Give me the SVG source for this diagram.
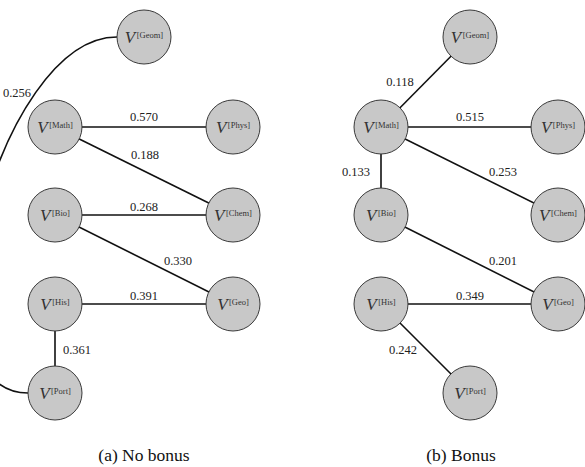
<svg xmlns="http://www.w3.org/2000/svg" width="585" height="467" viewBox="0 0 585 467">
<style>
.edge{stroke:#111;stroke-width:1.6;fill:none}
.node circle{fill:#c8c8c8;stroke:#3a3a3a;stroke-width:1}
.lbl{font-family:"Liberation Serif","Times New Roman","DejaVu Serif",serif;font-size:12.5px;fill:#222;text-anchor:middle}
.nt{font-family:"Liberation Serif","Times New Roman","DejaVu Serif",serif;fill:#333;text-anchor:middle}
.v{font-style:italic;font-size:17px}
.s{font-size:8.5px}
.cap{font-family:"Liberation Serif","Times New Roman","DejaVu Serif",serif;font-size:17.5px;fill:#111;text-anchor:middle}
</style>
<rect width="585" height="467" fill="#fff"/>
<g id="connectors">
<path class="edge" d="M117,37 C-3,37 -92,393 28,393"/>
<line class="edge" x1="55" y1="127" x2="233" y2="127"/>
<line class="edge" x1="55" y1="127" x2="233" y2="215"/>
<line class="edge" x1="55" y1="215" x2="233" y2="215"/>
<line class="edge" x1="55" y1="215" x2="233" y2="304"/>
<line class="edge" x1="55" y1="304" x2="233" y2="304"/>
<line class="edge" x1="55" y1="304" x2="55" y2="393"/>
<line class="edge" x1="470" y1="37" x2="381" y2="127"/>
<line class="edge" x1="381" y1="127" x2="558" y2="127"/>
<line class="edge" x1="381" y1="127" x2="558" y2="215"/>
<line class="edge" x1="381" y1="127" x2="381" y2="215"/>
<line class="edge" x1="381" y1="215" x2="558" y2="304"/>
<line class="edge" x1="381" y1="304" x2="558" y2="304"/>
<line class="edge" x1="381" y1="304" x2="470" y2="393"/>
</g>
<g id="edge-labels">
<text class="lbl" x="17" y="97">0.256</text>
<text class="lbl" x="144" y="121">0.570</text>
<text class="lbl" x="145" y="159">0.188</text>
<text class="lbl" x="144" y="211">0.268</text>
<text class="lbl" x="178" y="265">0.330</text>
<text class="lbl" x="144" y="300">0.391</text>
<text class="lbl" x="77" y="354">0.361</text>
<text class="lbl" x="400" y="86">0.118</text>
<text class="lbl" x="470" y="121">0.515</text>
<text class="lbl" x="356" y="176">0.133</text>
<text class="lbl" x="503" y="176">0.253</text>
<text class="lbl" x="503" y="265">0.201</text>
<text class="lbl" x="470" y="300">0.349</text>
<text class="lbl" x="403" y="354">0.242</text>
</g>
<g id="a-geom" class="node"><circle cx="144" cy="37" r="27"/><text class="nt" x="144" y="43"><tspan class="v">V</tspan><tspan class="s" dx="1.5" dy="-5">[Geom]</tspan></text></g>
<g id="a-math" class="node"><circle cx="55" cy="127" r="27"/><text class="nt" x="55" y="133"><tspan class="v">V</tspan><tspan class="s" dx="1.5" dy="-5">[Math]</tspan></text></g>
<g id="a-phys" class="node"><circle cx="233" cy="127" r="27"/><text class="nt" x="233" y="133"><tspan class="v">V</tspan><tspan class="s" dx="1.5" dy="-5">[Phys]</tspan></text></g>
<g id="a-bio" class="node"><circle cx="55" cy="215" r="27"/><text class="nt" x="55" y="221"><tspan class="v">V</tspan><tspan class="s" dx="1.5" dy="-5">[Bio]</tspan></text></g>
<g id="a-chem" class="node"><circle cx="233" cy="215" r="27"/><text class="nt" x="233" y="221"><tspan class="v">V</tspan><tspan class="s" dx="1.5" dy="-5">[Chem]</tspan></text></g>
<g id="a-his" class="node"><circle cx="55" cy="304" r="27"/><text class="nt" x="55" y="310"><tspan class="v">V</tspan><tspan class="s" dx="1.5" dy="-5">[His]</tspan></text></g>
<g id="a-geo" class="node"><circle cx="233" cy="304" r="27"/><text class="nt" x="233" y="310"><tspan class="v">V</tspan><tspan class="s" dx="1.5" dy="-5">[Geo]</tspan></text></g>
<g id="a-port" class="node"><circle cx="55" cy="393" r="27"/><text class="nt" x="55" y="399"><tspan class="v">V</tspan><tspan class="s" dx="1.5" dy="-5">[Port]</tspan></text></g>
<g id="b-geom" class="node"><circle cx="470" cy="37" r="27"/><text class="nt" x="470" y="43"><tspan class="v">V</tspan><tspan class="s" dx="1.5" dy="-5">[Geom]</tspan></text></g>
<g id="b-math" class="node"><circle cx="381" cy="127" r="27"/><text class="nt" x="381" y="133"><tspan class="v">V</tspan><tspan class="s" dx="1.5" dy="-5">[Math]</tspan></text></g>
<g id="b-phys" class="node"><circle cx="558" cy="127" r="27"/><text class="nt" x="558" y="133"><tspan class="v">V</tspan><tspan class="s" dx="1.5" dy="-5">[Phys]</tspan></text></g>
<g id="b-bio" class="node"><circle cx="381" cy="215" r="27"/><text class="nt" x="381" y="221"><tspan class="v">V</tspan><tspan class="s" dx="1.5" dy="-5">[Bio]</tspan></text></g>
<g id="b-chem" class="node"><circle cx="558" cy="215" r="27"/><text class="nt" x="558" y="221"><tspan class="v">V</tspan><tspan class="s" dx="1.5" dy="-5">[Chem]</tspan></text></g>
<g id="b-his" class="node"><circle cx="381" cy="304" r="27"/><text class="nt" x="381" y="310"><tspan class="v">V</tspan><tspan class="s" dx="1.5" dy="-5">[His]</tspan></text></g>
<g id="b-geo" class="node"><circle cx="558" cy="304" r="27"/><text class="nt" x="558" y="310"><tspan class="v">V</tspan><tspan class="s" dx="1.5" dy="-5">[Geo]</tspan></text></g>
<g id="b-port" class="node"><circle cx="470" cy="393" r="27"/><text class="nt" x="470" y="399"><tspan class="v">V</tspan><tspan class="s" dx="1.5" dy="-5">[Port]</tspan></text></g>
<g id="captions">
<text class="cap" x="144" y="461">(a) No bonus</text>
<text class="cap" x="461" y="461">(b) Bonus</text>
</g>
</svg>
